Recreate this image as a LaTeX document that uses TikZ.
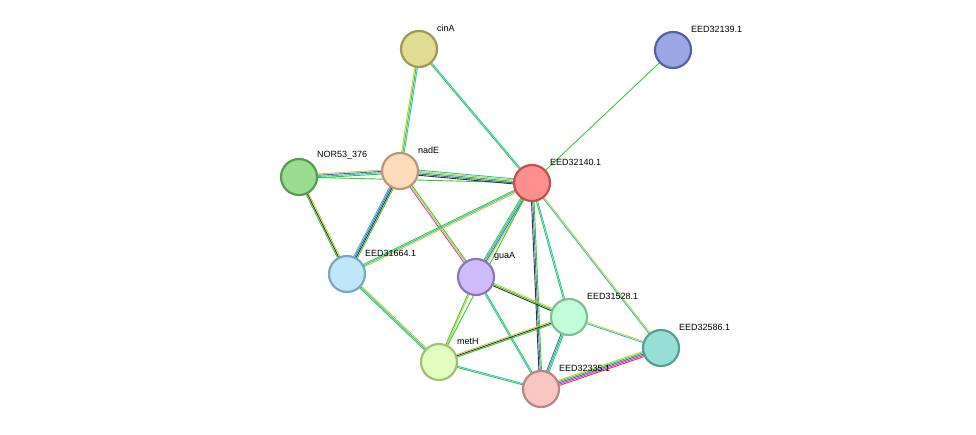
\documentclass[tikz,border=0pt]{standalone}
\usepackage{fontspec}
\setmainfont{Liberation Sans}
\usetikzlibrary{calc}
\definecolor{xg}{HTML}{33CC33}
\definecolor{xy}{HTML}{CCCC33}
\definecolor{xc}{HTML}{33BBCC}
\definecolor{xb}{HTML}{4466CC}
\definecolor{xk}{HTML}{333333}
\definecolor{xm}{HTML}{DD33DD}
\definecolor{xr}{HTML}{EE3333}
\tikzset{prot/.style={circle,draw,line width=2.2pt,minimum size=36pt,inner sep=0pt},
lab/.style={anchor=west,font=\fontsize{9}{10}\selectfont,inner sep=0pt}}
\newcommand{\edg}[4]{%
\foreach \c [count=\i] in {#4}{%
\pgfmathsetmacro{\k}{1.3*(\i-(#3+1)/2)}
\draw[draw=\c,line width=0.9pt] ($(#1)!\k pt!90:(#2)$) -- ($(#2)!\k pt!-90:(#1)$);}}
\begin{document}
\begin{tikzpicture}[x=1pt,y=-1pt]
\useasboundingbox (0,0) rectangle (976,435);
\coordinate (cinA) at (419,49);
\coordinate (e139) at (673,50);
\coordinate (nadE) at (400,171);
\coordinate (nor) at (299,177);
\coordinate (e140) at (532,183);
\coordinate (e664) at (347,274);
\coordinate (guaA) at (476,277);
\coordinate (e528) at (569,317);
\coordinate (e586) at (661,348);
\coordinate (metH) at (439,362);
\coordinate (e335) at (541,389);
\edg{cinA}{nadE}{3}{xy,xg,xc}
\edg{cinA}{e140}{2}{xg,xc}
\edg{e139}{e140}{1}{xg}
\edg{nor}{nadE}{4}{xg,xc,xb,xy}
\edg{nor}{e140}{1}{xg}
\edg{nor}{e664}{3}{xg,xk,xy}
\edg{nadE}{e140}{5}{xk,xb,xg,xy,xc}
\edg{nadE}{e664}{4}{xc,xb,xk,xg}
\edg{nadE}{guaA}{3}{xm,xy,xg}
\edg{e140}{e664}{3}{xg,xc,xy}
\edg{e140}{guaA}{4}{xg,xc,xb,xy}
\edg{e140}{metH}{1}{xg}
\edg{e140}{e528}{2}{xg,xc}
\edg{e140}{e335}{3}{xk,xb,xg}
\edg{e140}{e586}{2}{xc,xy}
\edg{e664}{metH}{3}{xg,xc,xy}
\edg{guaA}{e528}{3}{xk,xg,xy}
\edg{guaA}{metH}{2}{xg,xy}
\edg{guaA}{e335}{2}{xc,xg}
\edg{metH}{e528}{3}{xg,xk,xy}
\edg{metH}{e335}{2}{xg,xc}
\edg{e528}{e335}{3}{xb,xg,xc}
\edg{e528}{e586}{2}{xc,xy}
\edg{e335}{e586}{5}{xr,xm,xb,xg,xy}
\node[prot,fill={rgb,255:red,224;green,220;blue,148},draw={rgb,255:red,156;green,154;blue,82}] (ncinA) at (cinA) {};
\node[prot,fill={rgb,255:red,155;green,167;blue,227},draw={rgb,255:red,85;green,97;blue,165}] (n139) at (e139) {};
\node[prot,fill={rgb,255:red,253;green,220;blue,188},draw={rgb,255:red,183;green,152;blue,122}] (nnadE) at (nadE) {};
\node[prot,fill={rgb,255:red,153;green,221;blue,143},draw={rgb,255:red,90;green,154;blue,82}] (nnor) at (nor) {};
\node[prot,fill={rgb,255:red,253;green,143;blue,143},draw={rgb,255:red,194;green,80;blue,80}] (n140) at (e140) {};
\node[prot,fill={rgb,255:red,191;green,230;blue,249},draw={rgb,255:red,122;green,166;blue,191}] (n664) at (e664) {};
\node[prot,fill={rgb,255:red,209;green,188;blue,251},draw={rgb,255:red,140;green,118;blue,187}] (nguaA) at (guaA) {};
\node[prot,fill={rgb,255:red,193;green,253;blue,217},draw={rgb,255:red,123;green,192;blue,152}] (n528) at (e528) {};
\node[prot,fill={rgb,255:red,151;green,223;blue,213},draw={rgb,255:red,85;green,160;blue,150}] (n586) at (e586) {};
\node[prot,fill={rgb,255:red,226;green,253;blue,188},draw={rgb,255:red,159;green,191;blue,121}] (nmetH) at (metH) {};
\node[prot,fill={rgb,255:red,249;green,198;blue,196},draw={rgb,255:red,184;green,135;blue,132}] (n335) at (e335) {};
\node[lab] at (437,28) {cinA};
\node[lab] at (691,29) {EED32139.1};
\node[lab] at (418,150) {nadE};
\node[lab] at (317,155) {NOR53\_376};
\node[lab] at (550,162) {EED32140.1};
\node[lab] at (365,253) {EED31664.1};
\node[lab] at (494,256) {guaA};
\node[lab] at (587,296) {EED31528.1};
\node[lab] at (679,327) {EED32586.1};
\node[lab] at (457,341) {metH};
\node[lab] at (559,368) {EED32335.1};
\end{tikzpicture}
\end{document}
